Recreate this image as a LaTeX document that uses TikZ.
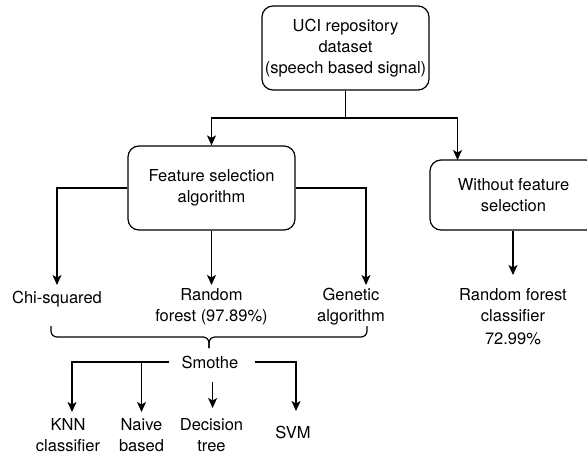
\documentclass[tikz,border=0pt]{standalone}
\usepackage{fontspec}
\setmainfont{TeX Gyre Heros}
\usetikzlibrary{arrows.meta,calc}
\begin{document}
\begin{tikzpicture}[x=1pt,y=-1pt,
  box/.style={draw,rounded corners=11pt,line width=1.2pt,minimum width=167pt,align=center,inner sep=0pt},
  lbl/.style={align=center,inner sep=0pt},
  ln/.style={line width=1.2pt},
  arr/.style={ln,-{Stealth[length=10pt,width=9pt,inset=2.5pt]}},
  font=\fontsize{16.5}{21}\selectfont]
\useasboundingbox (0,0) rectangle (587,456);
% boxes
\node[box,minimum height=84pt] (uci) at (345.5,48) {UCI repository\\dataset\\(speech based signal)};
\node[box,minimum height=84pt] (feat) at (211.5,188) {Feature selection\\algorithm};
\node[box,minimum height=70pt] (wo) at (513.5,195) {Without feature\\selection};
% labels
\node[lbl] (chi) at (57,299) {Chi-squared};
\node[lbl] (rf) at (211.5,306.5) {Random\\forest (97.89\%)};
\node[lbl] (ga) at (351,306.5) {Genetic\\algorithm};
\node[lbl] (rfc) at (513,317) {Random forest\\classifier\\[2pt]72.99\%};
\node[lbl] (sm) at (210,362) {Smothe};
\node[lbl] (knn) at (68,435) {KNN\\classifier};
\node[lbl] (nb) at (141.5,435) {Naive\\based};
\node[lbl] (dt) at (211.5,435) {Decision\\tree};
\node[lbl] (svm) at (293,432) {SVM};
% coordinates
\coordinate (j) at (345.5,118);
\coordinate (woIn) at (457.5,160);
\coordinate (chiT) at (57,285);
\coordinate (rfT) at (211.5,285);
\coordinate (gaT) at (366,285);
\coordinate (rfcT) at (513,275);
\coordinate (knnT) at (72,412);
\coordinate (nbT) at (141.5,412);
\coordinate (dtS) at (212.6,382);
\coordinate (dtT) at (212.6,408);
\coordinate (svmT) at (296,411);
% connectors
\draw[ln] (uci.south) -- (j);
\draw[arr] (j) -| (feat.north);
\draw[arr] (j) -| (woIn);
\draw[arr] (feat.west) -| (chiT);
\draw[arr] (feat.south) -- (rfT);
\draw[arr] (feat.east) -| (gaT);
\draw[arr] (wo.south -| rfcT) -- (rfcT);
% brace
\draw[ln,rounded corners=6pt] (51,326) -- (51,337) -- (209,337) -- (209,348);
\draw[ln,rounded corners=6pt] (367,326) -- (367,337) -- (209,337) -- (209,348);
% smothe outputs
\draw[arr] ([xshift=-12pt]sm.west) -| (knnT);
\draw[arr] (nbT |- sm.west) -- (nbT);
\draw[arr] (dtS) -- (dtT);
\draw[arr] ([xshift=16pt]sm.east) -| (svmT);
\end{tikzpicture}
\end{document}
